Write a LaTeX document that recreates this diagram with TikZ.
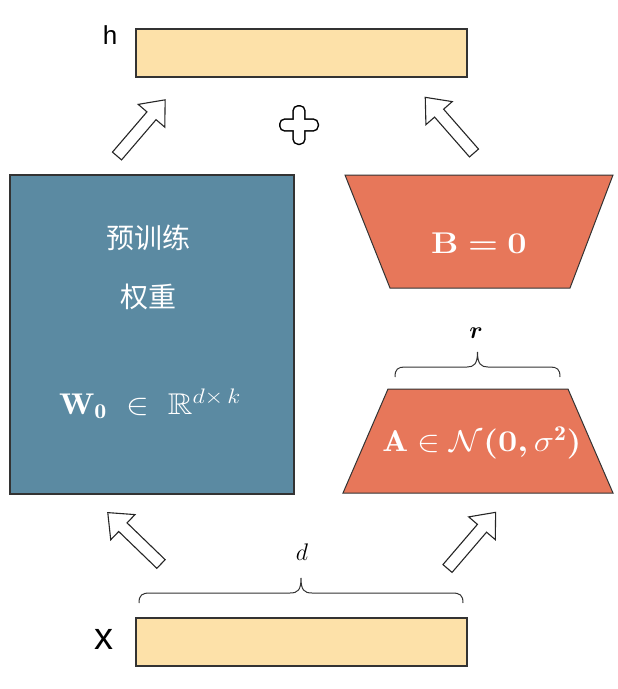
\RequirePackage{fix-cm}
\documentclass[tikz,border=0pt]{standalone}
\usepackage{amsmath,amssymb,bm}
\usepackage{fontspec}
\usetikzlibrary{calc}
\newfontfamily\cjk{Noto Sans CJK SC}
\newfontfamily\lsans{Liberation Sans}
\definecolor{barfill}{HTML}{FDE1A9}
\definecolor{bluefill}{HTML}{5B8AA2}
\definecolor{redfill}{HTML}{E7775A}
\definecolor{edge}{HTML}{333333}
\newcommand{\wide}[1]{\scalebox{1.14}[1]{#1}}
\tikzset{
  bar/.style={draw=edge, line width=1.2pt, fill=barfill, minimum width=331pt, minimum height=48pt, inner sep=0pt},
  weightbox/.style={draw=edge, line width=1.2pt, fill=bluefill, minimum width=284pt, minimum height=319pt, inner sep=0pt},
  trap/.style={draw=edge, line width=1pt, fill=redfill},
  arrowline/.style={draw=black!85, line width=1.1pt, fill=white, line join=miter},
  bracestyle/.style={draw=black!80, line width=1pt},
  pics/blockarr/.style={code={
    \draw[arrowline] (0,-6) -- (53,-6) -- (53,-17.5) -- (74,0) -- (53,17.5) -- (53,6) -- (0,6) -- cycle;}},
  wtext/.style={text=white, inner sep=0pt},
  lbl/.style={inner sep=0pt}
}
\begin{document}
\begin{tikzpicture}[x=1pt,y=-1pt]
\useasboundingbox (0,0) rectangle (618,689);
% bars
\node[bar] (hbar) at (301.5,53) {};
\node[bar] (xbar) at (301.5,642) {};
\node[lbl, font=\lsans\fontsize{26}{28}\selectfont] (hlbl) at (110,35) {h};
\node[lbl, font=\lsans\fontsize{38}{40}\selectfont] (xlbl) at (104,639) {x};
% pretrained weights
\node[weightbox] (W) at (152,334.5) {};
\node[wtext, font=\cjk\fontsize{28}{30}\selectfont] (t1) at (148,238) {预训练};
\node[wtext, font=\cjk\fontsize{28}{30}\selectfont] (t2) at (148,297) {权重};
\node[wtext, font=\fontsize{30}{34}\selectfont] (t3) at (150,404) {\wide{$\mathbf{W}_{\mathbf{0}}\;\in\;\mathbb{R}^{d\times\,k}$}};
% trapezoids
\path[trap] (345,175) -- (613,175) -- (570,288) -- (390,288) -- cycle;
\node[wtext, font=\fontsize{30}{34}\selectfont] (Blbl) at (479,243) {\wide{$\boldsymbol{\mathbf{B}=\mathbf{0}}$}};
\path[trap] (388,389) -- (568,389) -- (613,493) -- (343,493) -- cycle;
\node[wtext, font=\fontsize{30}{34}\selectfont] (Albl) at (482,443) {\wide{$\mathbf{A}\in\mathcal{N}\boldsymbol{(0,}\sigma^{\mathbf{2}}\boldsymbol{)}$}};
% braces
\draw[bracestyle] (395,377) .. controls (395,369) and (398,367) .. (405,367) -- (467,367) .. controls (474,367) and (477.5,364) .. (477.5,352) .. controls (477.5,364) and (481,367) .. (488,367) -- (550,367) .. controls (557,367) and (560,369) .. (560,377);
\node[lbl, font=\fontsize{24}{28}\selectfont] (rlbl) at (476,333) {$\boldsymbol{r}$};
\draw[bracestyle] (139,603) .. controls (139,595) and (142,593) .. (150,593) -- (290,593) .. controls (298,593) and (301,590) .. (301,578) .. controls (301,590) and (304,593) .. (312,593) -- (452,593) .. controls (460,593) and (463,595) .. (463,603);
\node[lbl, font=\fontsize{24}{28}\selectfont] (dlbl) at (302,552) {$d$};
% plus
\coordinate (pc) at (299,125);
\draw[line width=3pt, rounded corners=4.5pt] ($(pc)+(-18.5,-5.2)$) rectangle ($(pc)+(18.5,5.2)$);
\draw[line width=3pt, rounded corners=4.5pt] ($(pc)+(-5.2,-18.5)$) rectangle ($(pc)+(5.2,18.5)$);
\fill[white, rounded corners=4.5pt] ($(pc)+(-18.5,-5.2)$) rectangle ($(pc)+(18.5,5.2)$);
\fill[white, rounded corners=4.5pt] ($(pc)+(-5.2,-18.5)$) rectangle ($(pc)+(5.2,18.5)$);
% block arrows
\coordinate (a1) at (117,156);
\coordinate (a2) at (474,153);
\coordinate (a3) at (161,564);
\coordinate (a4) at (447.5,568.5);
\pic[rotate=49.4] at (a1) {blockarr};
\pic[rotate=131.2] at (a2) {blockarr};
\pic[rotate=136] at (a3) {blockarr};
\pic[rotate=49.4] at (a4) {blockarr};
\end{tikzpicture}
\end{document}
